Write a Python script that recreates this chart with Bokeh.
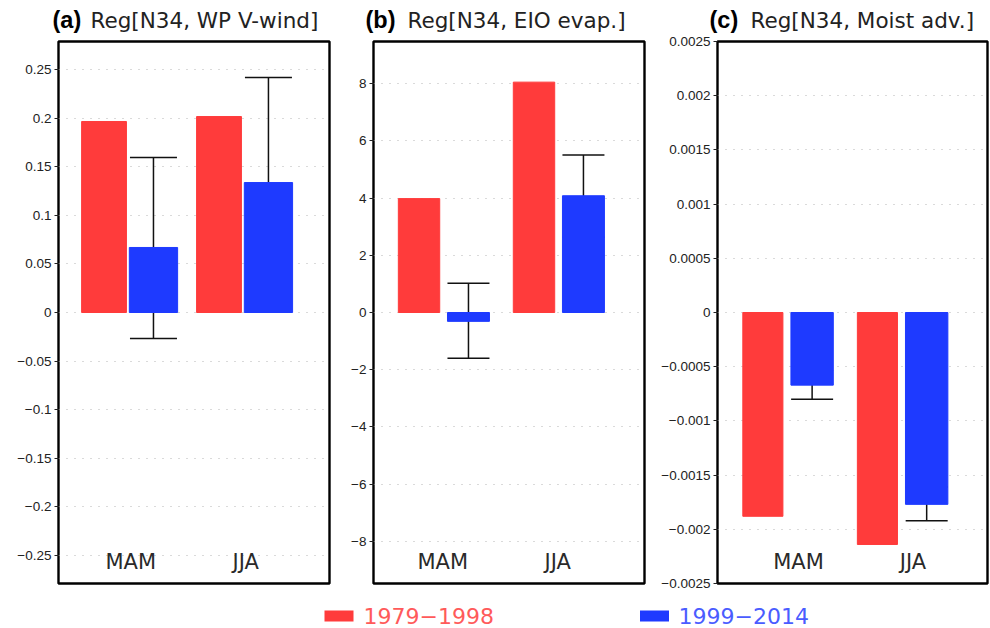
from bokeh.plotting import figure
from bokeh.layouts import row, column
from bokeh.models import (Range1d, FixedTicker, Whisker, TeeHead, ColumnDataSource)
from bokeh.core.properties import value
from bokeh.embed import file_html
from bokeh.resources import INLINE

# ---------------- data ----------------
seasons = ["MAM", "JJA"]
periods = ["1979\u22121998", "1999\u22122014"]

panel_tags = ["(a)", "(b)", "(c)"]
panel_titles = ["Reg[N34, WP V-wind]", "Reg[N34, EIO evap.]", "Reg[N34, Moist adv.]"]

# (a) WP V-wind
a_early = [0.1965, 0.2016]
a_late = [0.0669, 0.1337]
a_err_lo = [-0.0267, 0.0257]
a_err_hi = [0.1595, 0.2418]
a_ticks = [-0.25, -0.2, -0.15, -0.1, -0.05, 0, 0.05, 0.1, 0.15, 0.2, 0.25]
a_tick_labels = ["\u22120.25", "\u22120.2", "\u22120.15", "\u22120.1", "\u22120.05", "0",
                 "0.05", "0.1", "0.15", "0.2", "0.25"]

# (b) EIO evap.
b_early = [3.98, 8.05]
b_late = [-0.31, 4.08]
b_err_lo = [-1.6, 2.63]
b_err_hi = [1.02, 5.5]
b_ticks = [-8, -6, -4, -2, 0, 2, 4, 6, 8]
b_tick_labels = ["\u22128", "\u22126", "\u22124", "\u22122", "0", "2", "4", "6", "8"]

# (c) Moist adv.
c_early = [-0.00188, -0.00214]
c_late = [-0.00067, -0.00177]
c_err_lo = [-0.00080, -0.00192]
c_err_hi = [-0.000535, -0.00161]
c_ticks = [-0.0025, -0.002, -0.0015, -0.001, -0.0005, 0, 0.0005, 0.001, 0.0015, 0.002, 0.0025]
c_tick_labels = ["\u22120.0025", "\u22120.002", "\u22120.0015", "\u22120.001", "\u22120.0005", "0",
                 "0.0005", "0.001", "0.0015", "0.002", "0.0025"]

# ---------------- style ----------------
RED = "#FF3B3B"
BLUE = "#1E3AFF"
RED_TXT = "#FF5A5A"
BLUE_TXT = "#4A5CFF"
FRAME_H = 542
DODGE = 0.215
W_TOTAL = 990
HEAD_H = 34
LEG_H = 36


def make_panel(early, late, lo, hi, ticks, tick_labels, ylim,
               left, frame_w, right, w_early, w_late, head, lab_dx):
    p = figure(frame_width=frame_w, frame_height=FRAME_H,
               min_border_left=left, min_border_right=right,
               min_border_top=7, min_border_bottom=9,
               x_range=Range1d(-0.611, 1.746), y_range=Range1d(-ylim, ylim),
               toolbar_location=None, output_backend="svg",
               x_axis_location=None)
    p.background_fill_color = "white"
    p.border_fill_color = "white"
    p.outline_line_color = "black"
    p.outline_line_width = 2.4

    ticker = FixedTicker(ticks=ticks)
    ax = p.yaxis[0]
    ax.ticker = ticker
    ax.major_label_overrides = {t: s for t, s in zip(ticks, tick_labels)}
    ax.axis_line_color = None
    ax.major_tick_in = 0
    ax.major_tick_out = 4
    ax.major_tick_line_color = "#222222"
    ax.minor_tick_line_color = None
    ax.major_label_standoff = 3
    ax.major_label_text_font = "Liberation Sans"
    ax.major_label_text_font_size = "13.5px"
    ax.major_label_text_color = "#222222"

    p.ygrid.ticker = ticker
    p.ygrid.grid_line_color = "#b4b4b4"
    p.ygrid.grid_line_dash = "1 7"
    p.ygrid.grid_line_width = 1
    p.xgrid.visible = False

    gx = list(range(len(seasons)))
    x_early = [g - DODGE for g in gx]
    x_late = [g + DODGE for g in gx]

    p.vbar(x=x_early, top=early, bottom=0, width=w_early,
           fill_color=RED, line_color=RED)
    p.vbar(x=x_late, top=late, bottom=0, width=w_late,
           fill_color=BLUE, line_color=BLUE)

    src = ColumnDataSource(dict(x=x_late, lo=lo, hi=hi))
    p.add_layout(Whisker(source=src, base="x", lower="lo", upper="hi",
                         line_color="#111111", line_width=1.5,
                         upper_head=TeeHead(size=head, line_color="#111111", line_width=1.5),
                         lower_head=TeeHead(size=head, line_color="#111111", line_width=1.5)))

    p.text(x=gx, y=[-ylim] * len(gx), text=seasons, x_offset=lab_dx, y_offset=-22,
           text_align="center", text_baseline="middle",
           text_font=value("DejaVu Sans"), text_font_size="21px",
           text_color="#2a2a2a")
    return p


pa = make_panel(a_early, a_late, a_err_lo, a_err_hi,
                a_ticks, a_tick_labels, 0.2788, 58, 271, 2, 0.39, 0.42, 47, 2)
pb = make_panel(b_early, b_late, b_err_lo, b_err_hi,
                b_ticks, b_tick_labels, 9.47, 42, 271, 2, 0.36, 0.365, 42, -1)
pc = make_panel(c_early, c_late, c_err_lo, c_err_hi,
                c_ticks, c_tick_labels, 0.0025, 71, 270, 3, 0.35, 0.37, 42, 11)

# ---------------- header (panel titles) ----------------
hf = figure(frame_width=W_TOTAL, frame_height=HEAD_H, min_border=0,
            x_range=Range1d(0, W_TOTAL), y_range=Range1d(HEAD_H, 0),
            x_axis_location=None, y_axis_location=None,
            toolbar_location=None, output_backend="svg")
hf.grid.visible = False
hf.outline_line_color = None
tag_x = [52, 365, 709]
title_x = [90, 407, 750]
hf.text(x=tag_x, y=[19.5] * 3, text=panel_tags, text_baseline="middle",
        text_font=value("Liberation Sans"), text_font_style="bold",
        text_font_size="23.5px", text_color="black")
hf.text(x=title_x, y=[19.5] * 3, text=panel_titles, text_baseline="middle",
        text_font=value("DejaVu Sans"), text_font_size="21.5px", text_color="#222222")

# ---------------- legend ----------------
lf = figure(frame_width=W_TOTAL, frame_height=LEG_H, min_border=0,
            x_range=Range1d(0, W_TOTAL), y_range=Range1d(LEG_H, 0),
            x_axis_location=None, y_axis_location=None,
            toolbar_location=None, output_backend="svg")
lf.grid.visible = False
lf.outline_line_color = None
sw_x = [338.5, 654]
txt_x = [363, 678]
lf.rect(x=sw_x, y=[23.5] * 2, width=29, height=11,
        fill_color=[RED, BLUE], line_color=None)
lf.text(x=txt_x, y=[23.5] * 2, text=periods, text_baseline="middle",
        text_font=value("DejaVu Sans"), text_font_size="22px",
        text_color=[RED_TXT, BLUE_TXT])

layout = column(hf, row(pa, pb, pc), lf)

open("out.html", "w").write(file_html(layout, INLINE))
